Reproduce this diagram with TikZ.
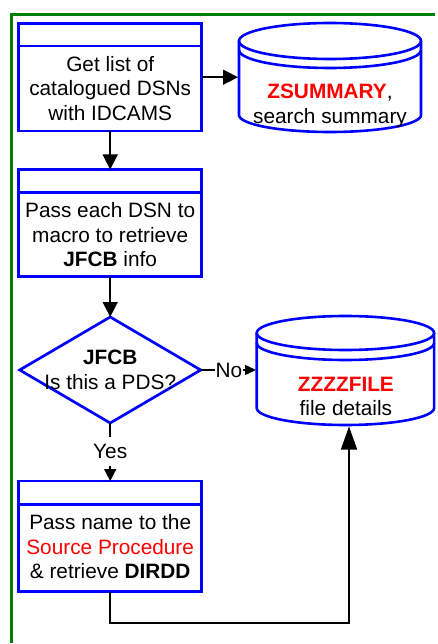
\documentclass[tikz,border=0pt]{standalone}
\usepackage{fontspec}
\setmainfont{Liberation Sans}
\usetikzlibrary{arrows.meta,shapes.geometric}
\definecolor{fgreen}{RGB}{0,128,0}
\definecolor{fblue}{RGB}{0,0,255}
\definecolor{fred}{RGB}{255,0,0}
\begin{document}
\begin{tikzpicture}[x=1pt,y=-1pt,
  txt/.style={font=\fontsize{20.8}{24.5}\selectfont, align=center, inner sep=0pt},
  lbl/.style={font=\fontsize{20.8}{24.5}\selectfont, inner xsep=0.5pt, inner ysep=0pt},
  proc/.style={draw=fblue, line width=2.7pt, minimum width=183pt, inner sep=0pt, outer sep=0pt},
  hdr/.style={draw=fblue, line width=2.7pt},
  cyl/.style={draw=fblue, line width=2.6pt},
  dec/.style={diamond, draw=fblue, line width=2.7pt, minimum width=181pt, minimum height=106pt, inner sep=0pt, outer sep=0pt},
  conn/.style={draw=black, line width=1.5pt},
  frame/.style={draw=fgreen, line width=2.7pt},
  bigtip/.style={-{Triangle[length=15pt,width=15pt]}},
  smalltip/.style={-{Triangle[length=11pt,width=10pt]}},
  midtip/.style={-{Triangle[length=12pt,width=12pt]}},
  uptip/.style={-{Triangle[length=23pt,width=16pt]}}
]
\path[fill=white] (0,0) rectangle (437,644);
\useasboundingbox (0,0) rectangle (437,644);
% frame (cropped at the right and bottom)
\draw[frame] (11.5,643) -- (11.5,13.15);
\draw[frame] (10.15,14.5) -- (435,14.5);

% process boxes
\node[proc, minimum height=107.7pt] (b1) at (110.2,77.2) {};
\draw[hdr] ([yshift=-22.8pt]b1.north west) -- ([yshift=-22.8pt]b1.north east);
\node[txt] (t1) at (110.2,88.4) {Get list of\\catalogued DSNs\\with IDCAMS};

\node[proc, minimum height=107pt] (b2) at (110.2,223) {};
\draw[hdr] ([yshift=-22.8pt]b2.north west) -- ([yshift=-22.8pt]b2.north east);
\node[txt] (t2) at (110.2,234.8) {Pass each DSN to\\macro to retrieve\\\textbf{JFCB} info};

\node[dec] (d1) at (110.2,370) {};
\node[txt] (t3) at (110.2,369.8) {\textbf{JFCB}\\Is this a PDS?};

\node[proc, minimum height=110.5pt] (b3) at (110.2,536.3) {};
\draw[hdr] ([yshift=-23.5pt]b3.north west) -- ([yshift=-23.5pt]b3.north east);
\node[txt] (t4) at (110.2,546.9) {Pass name to the\\{\color{fred}Source Procedure}\\\& retrieve \textbf{DIRDD}};

% cylinder 1
\draw[cyl] (239,41) -- (239,115) arc[start angle=180, end angle=0, x radius=91, y radius=17] -- (421,41);
\draw[cyl] (330,41) ellipse[x radius=91, y radius=18];
\draw[cyl] (239,50) arc[start angle=180, end angle=0, x radius=91, y radius=18];
\coordinate (c1w) at (238,77.2);
\node[txt] (t5) at (330,106) {\textbf{\color{fred}ZSUMMARY},\\search summary};

% cylinder 2
\draw[cyl] (256.7,333) -- (256.7,408) arc[start angle=180, end angle=0, x radius=88.7, y radius=17] -- (434.1,333);
\draw[cyl] (345.4,333) ellipse[x radius=88.7, y radius=17];
\draw[cyl] (256.7,343) arc[start angle=180, end angle=0, x radius=88.7, y radius=17];
\coordinate (c2w) at (256,370);
\coordinate (c2s) at (349,426.5);
\node[txt] (t6) at (345.9,396.4) {\textbf{\color{fred}ZZZZFILE}\\file details};

% labels
\node[lbl] (no) at (229,370) {No};
\node[lbl, inner ysep=7.5pt] (yes) at (110.2,451.5) {Yes};
\coordinate (bend) at (349,623);

% connectors
\draw[conn, bigtip] (b1.east) -- (c1w);
\draw[conn, bigtip] (b1.south) -- (b2.north);
\draw[conn, bigtip] (b2.south) -- (d1.north);
\draw[conn] (d1.east) -- (no.west);
\draw[conn, smalltip] (no.east) -- (c2w);
\draw[conn] (d1.south) -- (yes.north);
\draw[conn, midtip] (yes.south) -- (b3.north);
\draw[conn, uptip] (b3.south) |- (bend) -- (c2s);
\end{tikzpicture}
\end{document}
